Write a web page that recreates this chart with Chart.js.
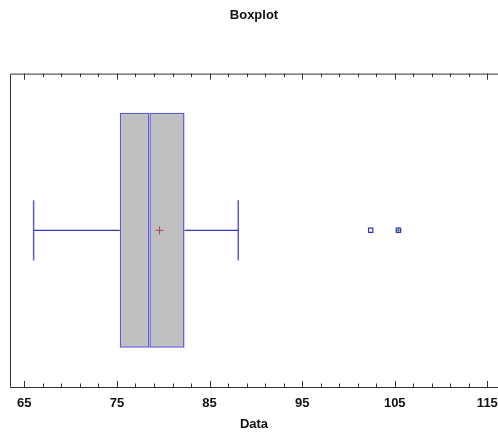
<!DOCTYPE html>
<html>
<head>
<meta charset="utf-8">
<script src="https://cdn.jsdelivr.net/npm/chart.js@4.4.1/dist/chart.umd.min.js"></script>
<style>
    html, body { margin: 0; padding: 0; background: #ffffff; }
    #wrap { width: 498px; height: 436px; }
</style>
</head>
<body>
<div id="wrap"><canvas id="myChart"></canvas></div>
<script>
// summary values
const category = ['Data'];
const lowWhisker = 66.0;
const q1 = 75.3;
const median = 78.5;
const q3 = 82.3;
const highWhisker = 88.1;
const mean = 79.6;
const outliers = [102.4];
const farOutliers = [105.4];

// axis
const xMin = 63.45;
const xMax = 116.15;
const majorTicks = [65, 75, 85, 95, 105, 115];
const minorStep = 2;

const mid = 0.5;
const capHalf = 0.096;
const boxLine = '#5b5bd6';
const whiskerLine = '#3434c0';
const font = "'Liberation Sans', Arial, sans-serif";

// frame and inward tick marks, like the original plot
const framePlugin = {
    id: 'frame',
    afterDraw(chart) {
        const ctx = chart.ctx;
        const area = chart.chartArea;
        const xs = chart.scales.x;
        ctx.save();
        ctx.strokeStyle = '#333333';
        ctx.lineWidth = 1;
        ctx.beginPath();
        ctx.moveTo(area.left + 0.5, area.top + 0.5);
        ctx.lineTo(area.right + 0.5, area.top + 0.5);
        ctx.lineTo(area.right + 0.5, area.bottom + 0.5);
        ctx.lineTo(area.left + 0.5, area.bottom + 0.5);
        ctx.closePath();
        ctx.stroke();
        xs.ticks.forEach(t => {
            const px = Math.round(xs.getPixelForValue(t.value)) + 0.5;
            const len = majorTicks.includes(t.value) ? 6 : 3.5;
            ctx.beginPath();
            ctx.moveTo(px, area.bottom);
            ctx.lineTo(px, area.bottom - len);
            ctx.moveTo(px, area.top);
            ctx.lineTo(px, area.top + len);
            ctx.stroke();
        });
        ctx.restore();
    }
};

function boxplot() {
    const ctx = document.getElementById('myChart');

    const boxPart = range => ({
        type: 'bar',
        indexAxis: 'y',
        yAxisID: 'yc',
        order: 2,
        data: [{ x: range, y: category[0] }],
        backgroundColor: '#c0c0c0',
        borderColor: boxLine,
        borderWidth: 1.5,
        borderSkipped: false,
        grouped: false,
        barPercentage: 0.75,
        categoryPercentage: 1
    });

    const segment = (pts, color, width) => ({
        type: 'line',
        order: 1,
        data: pts,
        borderColor: color,
        borderWidth: width,
        pointRadius: 0
    });

    new Chart(ctx, {
        type: 'scatter',
        data: {
            datasets: [
                boxPart([q1, median]),
                boxPart([median, q3]),
                segment([{ x: lowWhisker, y: mid }, { x: q1, y: mid }], whiskerLine, 1.2),
                segment([{ x: q3, y: mid }, { x: highWhisker, y: mid }], whiskerLine, 1.2),
                segment([{ x: lowWhisker, y: mid - capHalf }, { x: lowWhisker, y: mid + capHalf }], boxLine, 1.5),
                segment([{ x: highWhisker, y: mid - capHalf }, { x: highWhisker, y: mid + capHalf }], boxLine, 1.5),
                {
                    type: 'scatter',
                    order: 0,
                    data: [{ x: mean, y: mid }],
                    pointStyle: 'cross',
                    pointRadius: 4,
                    borderColor: '#a04848',
                    borderWidth: 1
                },
                {
                    type: 'scatter',
                    order: 0,
                    data: outliers.map(v => ({ x: v, y: mid })),
                    pointStyle: 'rect',
                    pointRadius: 3,
                    backgroundColor: 'rgba(0,0,0,0)',
                    borderColor: '#3434c0',
                    borderWidth: 1.2
                },
                {
                    type: 'scatter',
                    order: 0,
                    data: farOutliers.map(v => ({ x: v, y: mid })),
                    pointStyle: 'rect',
                    pointRadius: 3,
                    backgroundColor: 'rgba(0,0,0,0)',
                    borderColor: '#3434c0',
                    borderWidth: 1.2
                },
                {
                    type: 'scatter',
                    order: 0,
                    data: farOutliers.map(v => ({ x: v, y: mid })),
                    pointStyle: 'cross',
                    pointRadius: 3,
                    borderColor: '#3a7a6a',
                    borderWidth: 1
                }
            ]
        },
        options: {
            responsive: true,
            maintainAspectRatio: false,
            animation: false,
            layout: {
                autoPadding: false,
                padding: { left: 10, right: 0, top: 0, bottom: 0 }
            },
            plugins: {
                legend: { display: false },
                tooltip: { enabled: false },
                title: {
                    display: true,
                    text: 'Boxplot',
                    color: '#111111',
                    font: { family: font, size: 13, weight: 'bold' },
                    padding: { top: 8, bottom: 50 }
                }
            },
            scales: {
                x: {
                    type: 'linear',
                    min: xMin,
                    max: xMax,
                    offset: false,
                    afterBuildTicks: axis => {
                        const ticks = [];
                        for (let v = majorTicks[0]; v <= majorTicks[majorTicks.length - 1]; v += minorStep) {
                            ticks.push({ value: v });
                        }
                        axis.ticks = ticks;
                    },
                    afterFit: axis => {
                        axis.height = 49;
                        axis.paddingLeft = 0;
                        axis.paddingRight = 0;
                    },
                    grid: { display: false, drawTicks: false },
                    border: { display: false },
                    ticks: {
                        autoSkip: false,
                        maxRotation: 0,
                        padding: 9,
                        color: '#111111',
                        font: { family: font, size: 13, weight: 'bold' },
                        callback: v => majorTicks.includes(v) ? String(v) : ''
                    },
                    title: {
                        display: true,
                        text: 'Data',
                        color: '#111111',
                        font: { family: font, size: 13, weight: 'bold' },
                        padding: { top: 0, bottom: 4 }
                    }
                },
                y: {
                    type: 'linear',
                    display: false,
                    offset: false,
                    min: 0,
                    max: 1
                },
                yc: {
                    type: 'category',
                    labels: category,
                    display: false,
                    offset: true
                }
            }
        },
        plugins: [framePlugin]
    });
}

document.addEventListener('DOMContentLoaded', boxplot);
</script>
</body>
</html>
